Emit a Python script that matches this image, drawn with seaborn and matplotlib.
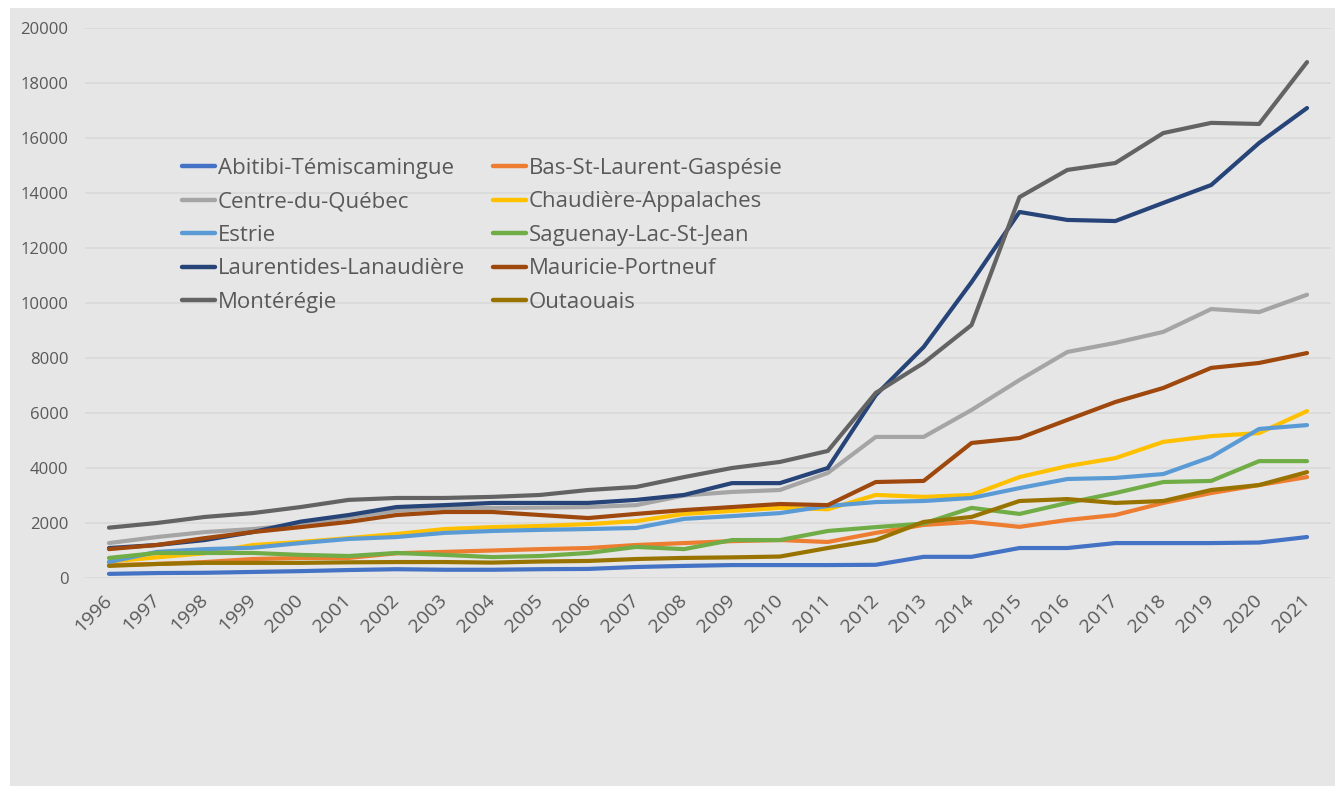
import matplotlib
matplotlib.use("Agg")
import matplotlib.pyplot as plt
from matplotlib.patches import Rectangle
import seaborn as sns
import pandas as pd

years = list(range(1996, 2022))

regions = [
    "Abitibi-Témiscamingue", "Bas-St-Laurent-Gaspésie",
    "Centre-du-Québec", "Chaudière-Appalaches",
    "Estrie", "Saguenay-Lac-St-Jean",
    "Laurentides-Lanaudière", "Mauricie-Portneuf",
    "Montérégie", "Outaouais",
]

abitibi = [150, 180, 190, 220, 250, 290, 320, 300, 300, 320, 330, 400, 440, 470, 470, 470, 480, 770, 770, 1090, 1090, 1270, 1270, 1270, 1290, 1490]
bas_st_laurent = [470, 510, 580, 690, 730, 730, 900, 950, 1000, 1050, 1090, 1200, 1270, 1340, 1380, 1310, 1640, 1930, 2040, 1860, 2110, 2290, 2730, 3090, 3380, 3670]
centre = [1270, 1490, 1670, 1780, 1950, 2200, 2450, 2550, 2550, 2560, 2580, 2650, 3000, 3130, 3200, 3820, 5130, 5130, 6110, 7200, 8220, 8550, 8950, 9780, 9670, 10300]
chaudiere = [600, 750, 900, 1200, 1310, 1450, 1600, 1780, 1850, 1890, 1960, 2070, 2330, 2440, 2550, 2500, 3020, 2950, 3020, 3670, 4070, 4360, 4950, 5160, 5270, 6070]
estrie = [580, 950, 1050, 1100, 1270, 1420, 1490, 1640, 1710, 1750, 1780, 1820, 2150, 2250, 2360, 2620, 2760, 2800, 2910, 3270, 3600, 3640, 3780, 4400, 5420, 5560]
saguenay = [730, 910, 910, 910, 840, 800, 910, 840, 760, 800, 910, 1130, 1050, 1380, 1380, 1710, 1850, 1980, 2550, 2330, 2730, 3090, 3490, 3530, 4250, 4250]
laurentides = [1090, 1200, 1380, 1670, 2050, 2290, 2580, 2650, 2730, 2730, 2730, 2840, 3020, 3450, 3450, 4000, 6650, 8400, 10760, 13310, 13020, 12980, 13640, 14290, 15820, 17090]
mauricie = [1050, 1200, 1450, 1670, 1850, 2040, 2290, 2400, 2400, 2290, 2180, 2330, 2470, 2580, 2690, 2650, 3490, 3530, 4910, 5090, 5750, 6400, 6910, 7640, 7820, 8180]
monteregie = [1830, 2000, 2220, 2360, 2580, 2840, 2910, 2910, 2950, 3020, 3200, 3310, 3670, 4000, 4220, 4620, 6730, 7820, 9200, 13850, 14840, 15090, 16180, 16550, 16510, 18760]
outaouais = [440, 510, 550, 550, 550, 570, 580, 580, 560, 600, 620, 690, 730, 750, 780, 1090, 1380, 2040, 2220, 2800, 2870, 2730, 2800, 3200, 3380, 3850]

series = [abitibi, bas_st_laurent, centre, chaudiere, estrie, saguenay,
          laurentides, mauricie, monteregie, outaouais]

colors = ["#4472C4", "#ED7D31", "#A5A5A5", "#FFC000", "#5B9BD5", "#70AD47",
          "#264478", "#9E480E", "#636363", "#997300"]

df = pd.concat(
    [pd.DataFrame({"Année": years, "Valeur": vals, "Région": name})
     for name, vals in zip(regions, series)],
    ignore_index=True,
)

W, H = 1335, 786
fig = plt.figure(figsize=(W / 100, H / 100), dpi=100, facecolor="white")
fig.patches.append(Rectangle((10 / W, 0), 1 - 10 / W, 1 - 8 / H,
                             transform=fig.transFigure, facecolor="#E7E6E6",
                             edgecolor="none", zorder=-10))

ax = fig.add_axes([85 / W, 1 - 578 / H, (1331 - 85) / W, (578 - 28) / H])
ax.set_facecolor("none")
ax.set_zorder(5)

FONT = ["Open Sans", "DejaVu Sans"]
TXT = "#595959"

sns.lineplot(data=df, x="Année", y="Valeur", hue="Région", hue_order=regions,
             palette=colors, linewidth=3.0, ax=ax, legend=True,
             solid_capstyle="round", solid_joinstyle="round")

ax.set_xlim(1995.5, 2021.5)
ax.set_ylim(0, 20000)
ax.set_yticks(range(0, 20001, 2000))
ax.set_xticks(years)
ax.set_xticklabels([str(y) for y in years], rotation=45, ha="right",
                   va="center", rotation_mode="anchor")
for lab in ax.get_xticklabels():
    lab.set_fontfamily(FONT)
    lab.set_fontsize(14)
    lab.set_color(TXT)
for lab in ax.get_yticklabels():
    lab.set_fontfamily(FONT)
    lab.set_fontsize(12)
    lab.set_color(TXT)
ax.tick_params(axis="both", length=0)
ax.tick_params(axis="y", pad=12)
ax.tick_params(axis="x", pad=14)
ax.set_xlabel("")
ax.set_ylabel("")
for s in ax.spines.values():
    s.set_visible(False)
ax.yaxis.grid(True, color="#D9D9D9", linewidth=1.2, zorder=0)
ax.xaxis.grid(False)
ax.set_axisbelow(True)

handles, labels = ax.get_legend_handles_labels()
order = [0, 2, 4, 6, 8, 1, 3, 5, 7, 9]
ax.get_legend().remove()
leg = ax.legend([handles[i] for i in order], [labels[i] for i in order],
                ncol=2, loc="upper left",
                bbox_to_anchor=(182 / W, 1 - 158 / H),
                bbox_transform=fig.transFigure,
                frameon=False, borderpad=0, borderaxespad=0,
                handlelength=1.5, handletextpad=0.12,
                labelspacing=0.56, columnspacing=1.25,
                prop={"family": FONT, "size": 16})
for t in leg.get_texts():
    t.set_color(TXT)
for h in leg.legend_handles:
    h.set_linewidth(3.2)

fig.savefig("out.png", dpi=100, facecolor=fig.get_facecolor())
